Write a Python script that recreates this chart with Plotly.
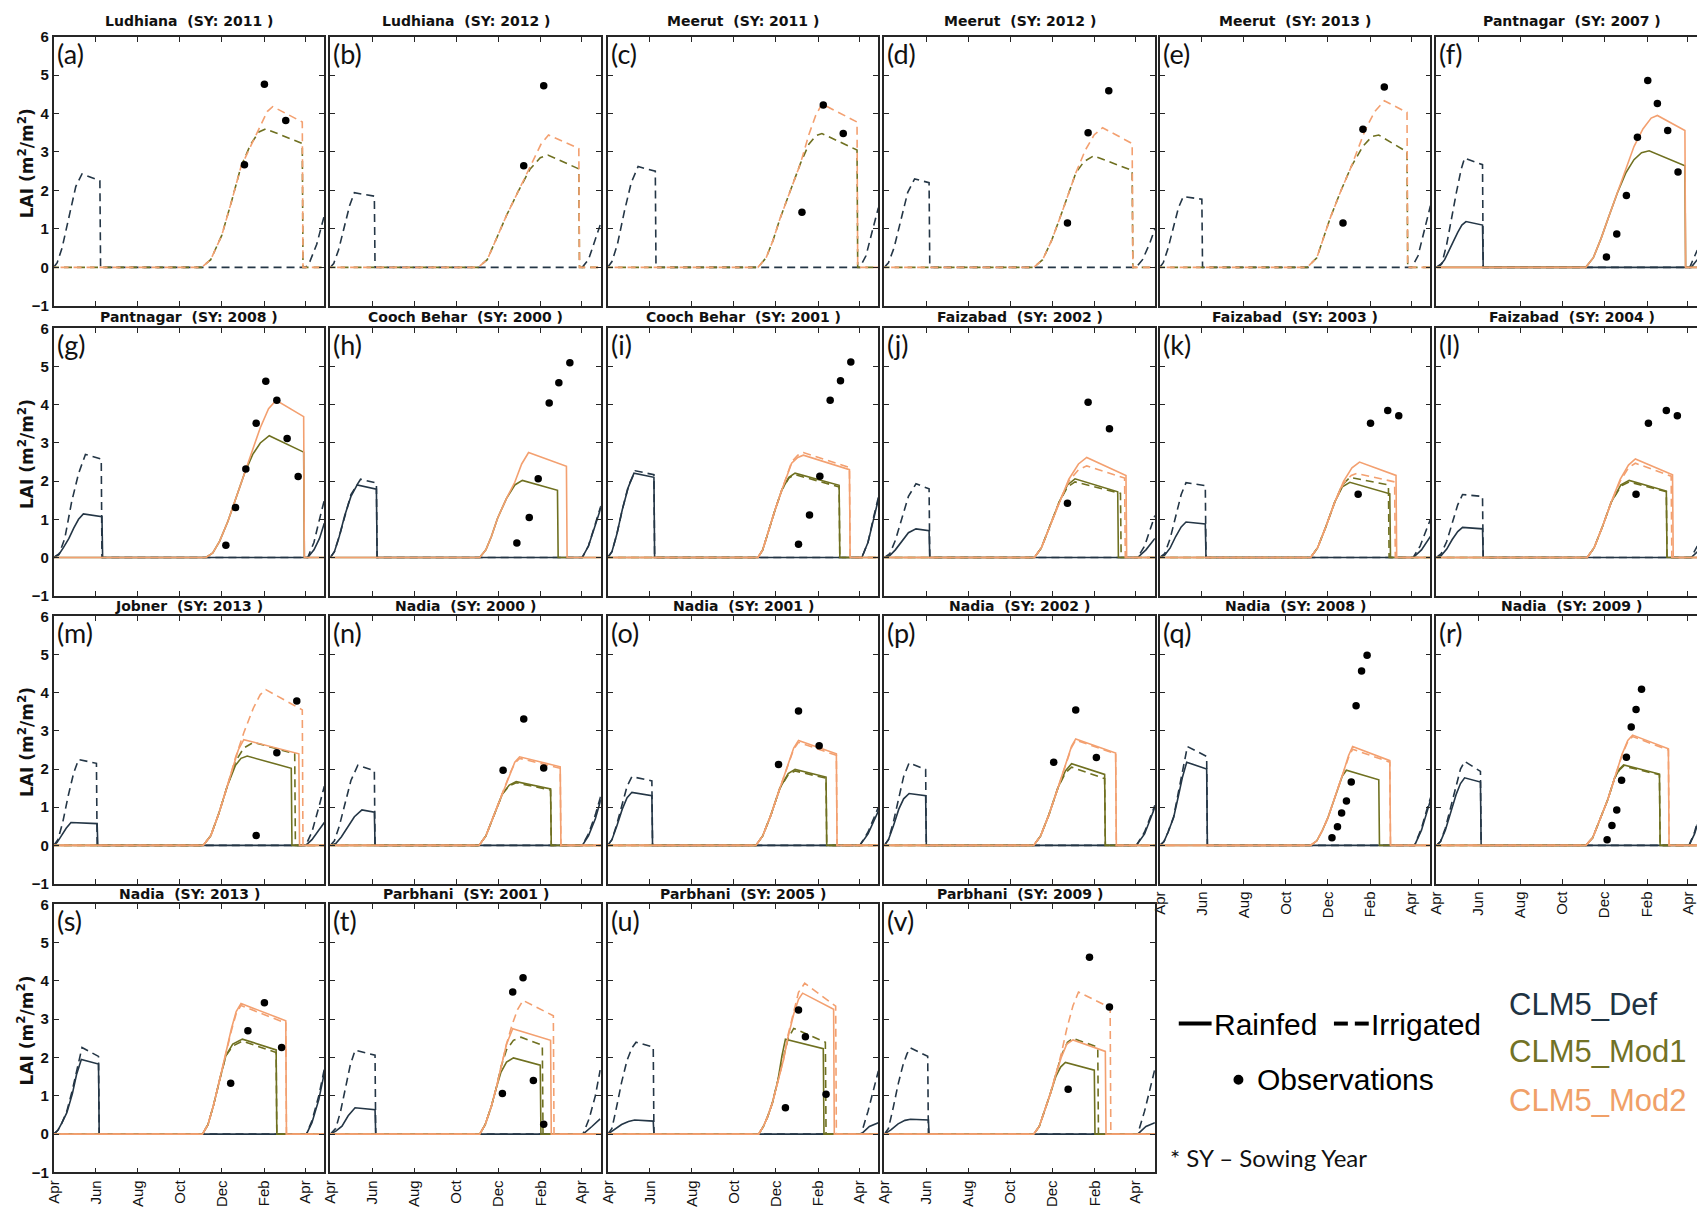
import plotly.graph_objects as go

FIG_W, FIG_H = 1697, 1213

# ---------------------------------------------------------------- panel info
SITES = ["Ludhiana", "Ludhiana", "Meerut", "Meerut", "Meerut", "Pantnagar",
         "Pantnagar", "Cooch Behar", "Cooch Behar", "Faizabad", "Faizabad", "Faizabad",
         "Jobner", "Nadia", "Nadia", "Nadia", "Nadia", "Nadia",
         "Nadia", "Parbhani", "Parbhani", "Parbhani"]
SOW_YEARS = [2011, 2012, 2011, 2012, 2013, 2007,
             2008, 2000, 2001, 2002, 2003, 2004,
             2013, 2000, 2001, 2002, 2008, 2009,
             2013, 2001, 2005, 2009]
PANEL_TAGS = ["(%s)" % c for c in "abcdefghijklmnopqrstuv"]

# x axis: days since 1 April of the sowing year
MONTH_DAYS = [0, 61, 122, 183, 244, 306, 365]
MONTH_LABELS = ["Apr", "Jun", "Aug", "Oct", "Dec", "Feb", "Apr"]
LAI_TICKS = [-1, 0, 1, 2, 3, 4, 5, 6]

# ---------------------------------------------------------------- simulated LAI
# vertices of each simulated LAI curve as [day, LAI]; None = not shown
DEF_RAIN = [
    None, None, None, None, None,
    [[0, 0], [6, 0.06], [12, 0.2], [17, 0.4], [24, 0.65], [31, 0.91], [37, 1.1], [43, 1.19], [67, 1.1], [68, 0], [370, 0], [379, 0.2]],
    [[0, 0], [7, 0.07], [14, 0.26], [22, 0.5], [29, 0.77], [36, 1.0], [43, 1.14], [70, 1.07], [71, 0], [369, 0], [378, 0.2], [386, 0.5], [393, 0.9]],
    [[0, 0], [6, 0.15], [13, 0.55], [21, 1.1], [30, 1.6], [39, 1.9], [67, 1.79], [68, 0], [366, 0], [375, 0.3], [385, 0.85], [393, 1.3]],
    [[0, 0], [6, 0.15], [13, 0.6], [21, 1.25], [30, 1.85], [38, 2.21], [67, 2.1], [68, 0], [369, 0], [378, 0.4], [386, 1.0], [394, 1.6]],
    [[0, 0], [8, 0.05], [16, 0.2], [25, 0.42], [35, 0.65], [46, 0.75], [65, 0.7], [66, 0], [368, 0], [380, 0.2], [393, 0.5]],
    [[0, 0], [7, 0.06], [15, 0.25], [23, 0.55], [31, 0.8], [38, 0.93], [66, 0.88], [67, 0], [368, 0], [380, 0.2], [393, 0.55]],
    [[0, 0], [7, 0.05], [15, 0.22], [23, 0.47], [31, 0.68], [38, 0.79], [67, 0.75], [68, 0], [370, 0], [379, 0.15]],
    [[0, 0], [5, 0.08], [11, 0.25], [18, 0.45], [25, 0.6], [63, 0.57], [64, 0], [366, 0], [375, 0.15], [385, 0.4], [393, 0.6]],
    [[0, 0], [8, 0.05], [16, 0.22], [25, 0.48], [35, 0.75], [46, 0.93], [64, 0.87], [65, 0], [366, 0], [375, 0.25], [385, 0.7], [393, 1.2]],
    [[0, 0], [6, 0.15], [13, 0.5], [21, 0.95], [28, 1.25], [35, 1.39], [64, 1.3], [65, 0], [366, 0], [378, 0.3], [393, 0.9]],
    [[0, 0], [6, 0.15], [13, 0.5], [21, 0.95], [28, 1.22], [36, 1.36], [60, 1.3], [61, 0], [366, 0], [378, 0.3], [393, 1.0]],
    [[0, 0], [6, 0.1], [12, 0.35], [20, 0.73], [27, 1.3], [33, 1.8], [39, 2.18], [68, 2.0], [69, 0], [370, 0], [380, 0.4], [388, 0.9], [395, 1.3]],
    [[0, 0], [6, 0.1], [13, 0.4], [21, 0.9], [29, 1.35], [35, 1.62], [41, 1.77], [64, 1.66], [65, 0], [367, 0], [375, 0.3], [382, 0.7]],
    [[0, 0], [6, 0.1], [12, 0.3], [19, 0.56], [27, 1.05], [33, 1.55], [40, 1.95], [65, 1.83], [66, 0], [367, 0], [375, 0.3], [385, 0.9], [393, 1.6]],
    [[0, 0], [8, 0.08], [17, 0.21], [26, 0.48], [36, 0.69], [65, 0.64], [66, 0], [367, 0], [380, 0.2], [392, 0.4]],
    [[0, 0], [10, 0.12], [20, 0.25], [30, 0.33], [39, 0.37], [66, 0.34], [67, 0], [368, 0], [380, 0.2], [393, 0.3]],
    [[0, 0], [10, 0.12], [20, 0.27], [30, 0.36], [38, 0.39], [64, 0.37], [65, 0], [368, 0], [380, 0.2], [393, 0.3]],
]
DEF_IRR = [
    [[0, 0], [5, 0.12], [12, 0.5], [22, 1.3], [32, 2.1], [41, 2.43], [67, 2.25], [68, 0], [366, 0], [372, 0.15], [382, 0.6], [393, 1.35]],
    [[0, 0], [5, 0.1], [12, 0.45], [20, 1.05], [28, 1.6], [35, 1.94], [64, 1.85], [65, 0], [366, 0], [375, 0.2], [385, 0.7], [393, 1.15]],
    [[0, 0], [6, 0.15], [14, 0.6], [24, 1.45], [34, 2.2], [44, 2.62], [69, 2.5], [70, 0], [366, 0], [375, 0.3], [385, 1.0], [393, 1.55]],
    [[0, 0], [6, 0.12], [14, 0.5], [24, 1.25], [34, 1.95], [44, 2.3], [65, 2.2], [66, 0], [366, 0], [375, 0.2], [385, 0.6], [393, 1.0]],
    [[0, 0], [5, 0.12], [12, 0.5], [20, 1.1], [27, 1.55], [34, 1.84], [61, 1.77], [62, 0], [366, 0], [375, 0.3], [385, 1.0], [393, 1.6]],
    [[0, 0], [8, 0.1], [15, 0.6], [22, 1.3], [29, 1.94], [36, 2.55], [41, 2.84], [67, 2.67], [68, 0], [368, 0], [379, 0.45]],
    [[0, 0], [8, 0.1], [16, 0.5], [26, 1.46], [36, 2.2], [46, 2.7], [69, 2.58], [70, 0], [369, 0], [378, 0.4], [386, 1.0], [393, 1.5]],
    [[0, 0], [6, 0.15], [13, 0.55], [21, 1.1], [30, 1.65], [44, 2.05], [67, 1.95], [68, 0], [366, 0], [375, 0.3], [385, 0.9], [393, 1.35]],
    [[0, 0], [6, 0.15], [13, 0.6], [21, 1.25], [30, 1.88], [40, 2.27], [67, 2.17], [68, 0], [369, 0], [378, 0.4], [386, 1.05], [394, 1.65]],
    [[0, 0], [8, 0.1], [16, 0.45], [25, 1.0], [35, 1.6], [46, 1.93], [65, 1.8], [66, 0], [368, 0], [378, 0.3], [386, 0.7], [393, 1.1]],
    [[0, 0], [7, 0.1], [15, 0.5], [23, 1.1], [31, 1.65], [38, 1.96], [66, 1.88], [67, 0], [368, 0], [378, 0.3], [386, 0.7], [393, 1.0]],
    [[0, 0], [7, 0.1], [15, 0.42], [23, 0.9], [31, 1.38], [38, 1.65], [67, 1.6], [68, 0], [370, 0], [379, 0.3]],
    [[0, 0], [6, 0.15], [13, 0.6], [21, 1.3], [29, 1.9], [36, 2.25], [62, 2.15], [63, 0], [366, 0], [375, 0.35], [385, 1.0], [393, 1.55]],
    [[0, 0], [6, 0.12], [13, 0.5], [21, 1.1], [30, 1.7], [40, 2.1], [64, 1.96], [65, 0], [366, 0], [375, 0.3], [385, 0.8], [393, 1.3]],
    [[0, 0], [6, 0.15], [13, 0.55], [21, 1.1], [28, 1.55], [35, 1.8], [64, 1.69], [65, 0], [366, 0], [378, 0.35], [393, 1.0]],
    [[0, 0], [6, 0.15], [13, 0.6], [21, 1.25], [28, 1.8], [36, 2.16], [60, 1.99], [61, 0], [366, 0], [378, 0.35], [393, 1.05]],
    [[0, 0], [6, 0.1], [12, 0.35], [20, 0.75], [27, 1.4], [34, 2.1], [40, 2.59], [68, 2.33], [69, 0], [370, 0], [380, 0.45], [388, 0.95], [395, 1.35]],
    [[0, 0], [6, 0.1], [13, 0.45], [21, 1.0], [29, 1.6], [35, 2.0], [41, 2.2], [64, 1.94], [65, 0], [367, 0], [375, 0.35], [382, 0.8]],
    [[0, 0], [6, 0.1], [12, 0.3], [19, 0.6], [27, 1.15], [34, 1.75], [41, 2.26], [65, 2.03], [66, 0], [367, 0], [375, 0.35], [385, 1.0], [393, 1.7]],
    [[0, 0], [8, 0.15], [15, 0.6], [22, 1.24], [29, 1.8], [36, 2.19], [65, 2.06], [66, 0], [367, 0], [376, 0.4], [385, 1.0], [392, 1.67]],
    [[0, 0], [6, 0.15], [13, 0.73], [20, 1.35], [28, 1.93], [35, 2.25], [41, 2.4], [66, 2.27], [67, 0], [368, 0], [378, 0.6], [386, 1.2], [393, 1.65]],
    [[0, 0], [6, 0.15], [13, 0.7], [20, 1.3], [27, 1.8], [33, 2.1], [38, 2.25], [63, 2.03], [64, 0], [368, 0], [378, 0.6], [386, 1.2], [393, 1.7]],
]
MOD1_RAIN = [
    None, None, None, None, None,
    [[217, 0], [228, 0.25], [239, 0.74], [251, 1.35], [263, 1.94], [275, 2.45], [287, 2.8], [298, 2.98], [309, 3.03], [361, 2.64], [362, 0]],
    [[221, 0], [231, 0.12], [241, 0.43], [253, 0.95], [265, 1.55], [277, 2.2], [289, 2.7], [300, 3.0], [313, 3.19], [363, 2.76], [364, 0]],
    [[217, 0], [226, 0.2], [234, 0.55], [243, 1.03], [256, 1.55], [268, 1.9], [279, 2.02], [330, 1.76], [331, 0]],
    [[218, 0], [225, 0.2], [234, 0.75], [243, 1.25], [253, 1.78], [263, 2.1], [272, 2.21], [336, 1.89], [337, 0]],
    [[218, 0], [228, 0.25], [240, 0.8], [254, 1.45], [266, 1.9], [277, 2.06], [339, 1.72], [340, 0]],
    [[219, 0], [229, 0.25], [241, 0.8], [254, 1.45], [265, 1.85], [276, 1.97], [334, 1.67], [335, 0]],
    [[219, 0], [229, 0.25], [241, 0.8], [254, 1.45], [268, 1.9], [280, 2.02], [334, 1.74], [335, 0]],
    [[217, 0], [228, 0.25], [240, 0.85], [252, 1.55], [264, 2.1], [272, 2.28], [281, 2.34], [345, 2.02], [346, 0]],
    [[216, 0], [226, 0.25], [238, 0.8], [250, 1.35], [260, 1.58], [270, 1.67], [320, 1.48], [321, 0]],
    [[215, 0], [225, 0.25], [237, 0.8], [250, 1.5], [262, 1.88], [272, 1.99], [317, 1.79], [318, 0]],
    [[217, 0], [227, 0.25], [239, 0.8], [252, 1.5], [263, 1.95], [272, 2.14], [320, 1.86], [321, 0]],
    [[219, 0], [228, 0.12], [236, 0.39], [244, 0.72], [251, 1.08], [259, 1.5], [265, 1.82], [271, 1.97], [318, 1.72], [319, 0]],
    [[217, 0], [227, 0.2], [239, 0.73], [249, 1.2], [259, 1.77], [266, 2.0], [272, 2.11], [324, 1.87], [325, 0]],
    [[216, 0], [224, 0.25], [232, 0.75], [241, 1.42], [250, 2.05], [260, 2.35], [274, 2.48], [323, 2.2], [324, 0]],
    [[217, 0], [225, 0.25], [234, 0.73], [241, 1.2], [248, 1.62], [256, 1.88], [266, 1.99], [305, 1.8], [306, 0]],
    [[219, 0], [226, 0.2], [232, 0.45], [239, 0.81], [247, 1.4], [253, 2.05], [258, 2.48], [313, 2.23], [314, 0]],
    [[217, 0], [225, 0.2], [233, 0.6], [241, 1.05], [249, 1.5], [256, 1.75], [263, 1.87], [305, 1.67], [306, 0]],
]
MOD1_IRR = [
    [[215, 0], [228, 0.2], [244, 0.83], [258, 1.7], [272, 2.62], [286, 3.2], [298, 3.52], [308, 3.6], [361, 3.22], [362, 0]],
    [[215, 0], [228, 0.2], [241, 0.74], [256, 1.35], [272, 1.94], [290, 2.55], [305, 2.85], [316, 2.92], [361, 2.56], [362, 0]],
    [[218, 0], [230, 0.25], [240, 0.7], [250, 1.26], [265, 2.0], [280, 2.71], [292, 3.2], [302, 3.42], [311, 3.48], [362, 3.05], [363, 0]],
    [[217, 0], [230, 0.2], [243, 0.7], [258, 1.43], [278, 2.45], [290, 2.75], [304, 2.9], [360, 2.52], [361, 0]],
    [[214, 0], [228, 0.25], [247, 1.26], [262, 1.95], [278, 2.62], [295, 3.15], [308, 3.4], [318, 3.44], [359, 3.0], [360, 0]],
    None, None, None,
    [[218, 0], [225, 0.2], [234, 0.75], [243, 1.25], [253, 1.78], [263, 2.08], [272, 2.17], [336, 1.85], [337, 0]],
    [[218, 0], [228, 0.25], [240, 0.8], [254, 1.45], [266, 1.85], [277, 1.98], [343, 1.68], [344, 0]],
    [[219, 0], [229, 0.25], [241, 0.8], [254, 1.45], [265, 1.9], [276, 2.1], [332, 1.9], [333, 0]],
    [[219, 0], [229, 0.25], [241, 0.8], [254, 1.45], [268, 1.87], [280, 1.98], [334, 1.72], [335, 0]],
    [[217, 0], [228, 0.25], [240, 0.85], [252, 1.55], [264, 2.2], [276, 2.55], [290, 2.7], [350, 2.4], [351, 0]],
    [[216, 0], [226, 0.25], [238, 0.8], [250, 1.35], [260, 1.56], [270, 1.64], [320, 1.45], [321, 0]],
    [[215, 0], [225, 0.25], [237, 0.8], [250, 1.5], [262, 1.85], [272, 1.95], [317, 1.76], [318, 0]],
    [[217, 0], [227, 0.25], [239, 0.8], [252, 1.5], [263, 1.9], [272, 2.05], [320, 1.75], [321, 0]],
    None,
    [[217, 0], [227, 0.2], [239, 0.73], [249, 1.2], [259, 1.77], [266, 1.98], [272, 2.08], [324, 1.85], [325, 0]],
    [[216, 0], [224, 0.25], [232, 0.75], [241, 1.42], [250, 2.05], [260, 2.3], [274, 2.43], [323, 2.13], [324, 0]],
    [[217, 0], [225, 0.25], [234, 0.73], [241, 1.2], [248, 1.76], [256, 2.2], [266, 2.45], [277, 2.53], [308, 2.32], [309, 0]],
    [[219, 0], [226, 0.2], [232, 0.45], [239, 0.81], [247, 1.4], [255, 2.0], [262, 2.5], [270, 2.76], [316, 2.4], [317, 0]],
    [[217, 0], [225, 0.2], [233, 0.6], [241, 1.05], [249, 1.55], [257, 2.05], [266, 2.4], [274, 2.5], [310, 2.27], [311, 0]],
]
MOD2_RAIN = [
    None, None, None, None, None,
    [[217, 0], [228, 0.25], [239, 0.74], [251, 1.35], [263, 1.94], [275, 2.55], [287, 3.14], [300, 3.6], [312, 3.88], [321, 3.95], [361, 3.56], [362, 0]],
    [[221, 0], [231, 0.12], [241, 0.43], [253, 0.95], [265, 1.55], [277, 2.2], [289, 2.83], [300, 3.4], [312, 3.9], [323, 4.12], [363, 3.69], [364, 0]],
    [[217, 0], [226, 0.2], [234, 0.55], [243, 1.03], [256, 1.55], [268, 1.97], [278, 2.45], [288, 2.75], [343, 2.39], [344, 0]],
    [[218, 0], [225, 0.2], [234, 0.75], [243, 1.25], [253, 1.78], [267, 2.47], [276, 2.62], [284, 2.68], [351, 2.3], [352, 0]],
    [[218, 0], [228, 0.25], [240, 0.8], [254, 1.45], [268, 2.05], [282, 2.45], [294, 2.62], [351, 2.15], [352, 0]],
    [[219, 0], [229, 0.25], [241, 0.8], [254, 1.45], [267, 2.0], [279, 2.35], [290, 2.5], [343, 2.15], [344, 0]],
    [[219, 0], [229, 0.25], [241, 0.8], [254, 1.45], [267, 2.05], [279, 2.42], [289, 2.58], [343, 2.17], [344, 0]],
    [[217, 0], [228, 0.25], [240, 0.85], [252, 1.55], [260, 2.05], [268, 2.5], [276, 2.77], [356, 2.4], [357, 0]],
    [[216, 0], [226, 0.25], [238, 0.8], [250, 1.4], [262, 1.95], [268, 2.18], [275, 2.32], [334, 2.06], [335, 0]],
    [[215, 0], [225, 0.25], [237, 0.8], [250, 1.5], [263, 2.2], [270, 2.55], [277, 2.75], [332, 2.4], [333, 0]],
    [[217, 0], [227, 0.25], [239, 0.8], [252, 1.5], [265, 2.25], [272, 2.6], [278, 2.79], [336, 2.42], [337, 0]],
    [[219, 0], [228, 0.12], [236, 0.39], [244, 0.72], [251, 1.08], [259, 1.5], [267, 1.94], [274, 2.35], [280, 2.59], [334, 2.22], [335, 0]],
    [[217, 0], [227, 0.2], [239, 0.73], [249, 1.2], [259, 1.77], [270, 2.4], [278, 2.75], [285, 2.89], [337, 2.53], [338, 0]],
    [[216, 0], [224, 0.25], [232, 0.75], [241, 1.42], [250, 2.15], [258, 2.75], [265, 3.2], [272, 3.41], [337, 2.96], [338, 0]],
    [[217, 0], [225, 0.25], [234, 0.73], [241, 1.2], [248, 1.76], [256, 2.35], [265, 2.75], [320, 2.45], [321, 0]],
    [[219, 0], [226, 0.2], [232, 0.45], [239, 0.81], [247, 1.35], [255, 1.93], [262, 2.55], [270, 3.13], [277, 3.52], [283, 3.68], [328, 3.26], [329, 0]],
    [[217, 0], [225, 0.2], [233, 0.6], [241, 1.05], [249, 1.55], [257, 2.0], [265, 2.35], [274, 2.46], [321, 2.16], [322, 0]],
]
MOD2_IRR = [
    [[215, 0], [228, 0.2], [244, 0.83], [258, 1.7], [272, 2.62], [286, 3.15], [300, 3.7], [310, 4.05], [318, 4.18], [361, 3.78], [362, 0]],
    [[215, 0], [228, 0.2], [241, 0.74], [256, 1.35], [272, 1.94], [293, 2.71], [306, 3.2], [317, 3.44], [361, 3.09], [362, 0]],
    [[218, 0], [230, 0.25], [240, 0.7], [250, 1.26], [265, 2.0], [280, 2.71], [292, 3.45], [302, 3.95], [311, 4.25], [362, 3.78], [363, 0]],
    [[217, 0], [230, 0.2], [243, 0.7], [258, 1.43], [278, 2.45], [292, 3.05], [305, 3.45], [317, 3.63], [360, 3.22], [361, 0]],
    [[214, 0], [228, 0.25], [247, 1.26], [262, 1.95], [278, 2.62], [298, 3.56], [312, 4.05], [326, 4.33], [359, 4.03], [360, 0]],
    None, None, None,
    [[218, 0], [225, 0.2], [234, 0.75], [243, 1.25], [253, 1.78], [267, 2.5], [276, 2.68], [284, 2.75], [351, 2.36], [352, 0]],
    [[218, 0], [228, 0.25], [240, 0.8], [254, 1.45], [268, 2.0], [282, 2.3], [294, 2.4], [349, 2.08], [350, 0]],
    [[219, 0], [229, 0.25], [241, 0.8], [254, 1.45], [267, 1.95], [278, 2.15], [286, 2.2], [341, 1.98], [342, 0]],
    [[219, 0], [229, 0.25], [241, 0.8], [254, 1.45], [267, 2.0], [279, 2.35], [289, 2.47], [341, 2.13], [342, 0]],
    [[217, 0], [228, 0.25], [240, 0.85], [252, 1.55], [264, 2.3], [276, 2.95], [290, 3.6], [300, 3.95], [308, 4.08], [361, 3.55], [362, 0]],
    [[216, 0], [226, 0.25], [238, 0.8], [250, 1.4], [262, 1.93], [268, 2.15], [275, 2.28], [334, 2.02], [335, 0]],
    [[215, 0], [225, 0.25], [237, 0.8], [250, 1.5], [263, 2.18], [270, 2.52], [277, 2.7], [332, 2.36], [333, 0]],
    [[217, 0], [227, 0.25], [239, 0.8], [252, 1.5], [265, 2.22], [272, 2.57], [278, 2.76], [336, 2.4], [337, 0]],
    [[219, 0], [228, 0.12], [236, 0.39], [244, 0.72], [251, 1.08], [259, 1.5], [267, 1.94], [274, 2.3], [280, 2.52], [334, 2.18], [335, 0]],
    [[217, 0], [227, 0.2], [239, 0.73], [249, 1.2], [259, 1.77], [270, 2.38], [278, 2.72], [285, 2.85], [337, 2.5], [338, 0]],
    [[216, 0], [224, 0.25], [232, 0.75], [241, 1.42], [250, 2.12], [258, 2.7], [265, 3.15], [272, 3.36], [337, 2.9], [338, 0]],
    [[217, 0], [225, 0.25], [234, 0.73], [241, 1.2], [248, 1.76], [256, 2.35], [264, 2.85], [272, 3.25], [280, 3.49], [324, 3.09], [325, 0]],
    [[219, 0], [226, 0.2], [232, 0.45], [239, 0.81], [247, 1.35], [255, 1.93], [262, 2.6], [270, 3.2], [277, 3.7], [286, 3.94], [331, 3.34], [332, 0]],
    [[217, 0], [225, 0.2], [233, 0.6], [241, 1.05], [249, 1.55], [257, 2.1], [265, 2.75], [274, 3.35], [282, 3.71], [328, 3.3], [329, 0]],
]

# ---------------------------------------------------------------- observations
OBS_DAY = [
    [277, 306, 337], [281, 310], [282, 313, 342], [266, 296, 326], [266, 295, 326],
    [247, 262, 276, 292, 307, 321, 336, 351],
    [250, 264, 279, 294, 308, 324, 339, 355],
    [271, 289, 302, 318, 332, 348], [277, 293, 308, 323, 338, 353],
    [266, 296, 327], [288, 306, 331, 347], [290, 308, 334, 350],
    [294, 324, 353], [251, 281, 310], [248, 277, 307], [246, 278, 308],
    [250, 258, 264, 271, 278, 285, 293, 301],
    [248, 255, 262, 269, 276, 283, 290, 298],
    [257, 282, 306, 331], [250, 265, 280, 295, 310], [258, 277, 287, 317], [267, 298, 327],
]
OBS_LAI = [
    [2.67, 4.76, 3.82], [2.64, 4.72], [1.43, 4.22, 3.48], [1.15, 3.5, 4.59], [1.15, 3.59, 4.69],
    [0.27, 0.87, 1.87, 3.38, 4.86, 4.26, 3.56, 2.48],
    [0.32, 1.31, 2.32, 3.52, 4.62, 4.12, 3.12, 2.12],
    [0.38, 1.05, 2.06, 4.05, 4.58, 5.1], [0.35, 1.11, 2.13, 4.12, 4.63, 5.12],
    [1.42, 4.07, 3.37], [1.66, 3.52, 3.85, 3.71], [1.66, 3.52, 3.85, 3.71],
    [0.26, 2.43, 3.78], [1.97, 3.31, 2.03], [2.12, 3.52, 2.61], [2.18, 3.55, 2.3],
    [0.2, 0.49, 0.85, 1.16, 1.66, 3.66, 4.57, 4.98],
    [0.15, 0.52, 0.93, 1.71, 2.31, 3.1, 3.56, 4.09],
    [1.33, 2.7, 3.43, 2.26], [1.06, 3.71, 4.08, 1.4, 0.26], [0.69, 3.24, 2.54, 1.04], [1.17, 4.62, 3.32],
]

# ---------------------------------------------------------------- styling
COL_DEF = "#243646"
COL_MOD1 = "#6f7020"
COL_MOD2 = "#f3a070"
TXT_DEF = "#1e3343"
TXT_MOD1 = "#727226"
TXT_MOD2 = "#f0a068"
AXIS_COL = "#262626"
IRR_DASH = "8px,5px"

COL_LEFT = [45, 323, 602, 880, 1157, 1435]
ROW_TOP = [28, 324, 616, 908]
ROW_H = [273, 271, 271, 272]
TITLE_LIFT = [6, 1, 0, 0]
PANEL_W = 272
X_SPAN = 393.0


def px_x(p):
    return p / FIG_W


def px_y(p):
    return 1 - p / FIG_H


def padded(verts, phase=0.0):
    xs = [v[0] for v in verts]
    ys = [v[1] for v in verts]
    if xs[0] > -phase:
        xs.insert(0, -phase)
        ys.insert(0, 0)
    if ys[-1] == 0:
        xs.append(410)
        ys.append(0)
    return xs, ys


fig = go.Figure()
layout = {}
annotations = []

series = [
    (DEF_IRR, COL_DEF, IRR_DASH, 0.0),
    (DEF_RAIN, COL_DEF, "solid", 0.0),
    (MOD1_IRR, COL_MOD1, IRR_DASH, 4.0),
    (MOD1_RAIN, COL_MOD1, "solid", 0.0),
    (MOD2_IRR, COL_MOD2, IRR_DASH, 9.0),
    (MOD2_RAIN, COL_MOD2, "solid", 0.0),
]

for i in range(len(SITES)):
    n = i + 1
    sfx = "" if n == 1 else str(n)
    row, col = divmod(i, 6)
    left = COL_LEFT[col]
    right = min(left + PANEL_W, FIG_W)
    top = ROW_TOP[row]
    bottom = top + ROW_H[row]
    x_end = X_SPAN * (right - left) / PANEL_W
    bottom_panel = row == 3 or (row == 2 and col >= 4)

    for data, color, dash, phase in series:
        verts = data[i]
        if verts is None:
            continue
        xs, ys = padded(verts, phase)
        fig.add_trace(go.Scatter(
            x=xs, y=ys, mode="lines",
            line=dict(color=color, width=1.6, dash=dash),
            xaxis="x" + sfx, yaxis="y" + sfx,
            showlegend=False, hoverinfo="skip"))

    fig.add_trace(go.Scatter(
        x=OBS_DAY[i], y=OBS_LAI[i], mode="markers",
        marker=dict(color="black", size=7.5),
        xaxis="x" + sfx, yaxis="y" + sfx,
        showlegend=False, hoverinfo="skip"))

    xaxis = dict(
        domain=[px_x(left), px_x(right)], anchor="y" + sfx,
        range=[0, x_end], tickmode="array", tickvals=MONTH_DAYS,
        ticks="inside", ticklen=5, tickwidth=1, tickcolor=AXIS_COL,
        showline=True, linecolor=AXIS_COL, linewidth=1.8, mirror="ticks",
        showgrid=False, zeroline=False, showticklabels=bottom_panel,
        fixedrange=True)
    if bottom_panel:
        xaxis.update(
            ticktext=MONTH_LABELS, tickangle=-90,
            tickfont=dict(family="Liberation Sans, Arial, sans-serif", size=15, color="#111"))
    layout["xaxis" + sfx] = xaxis

    yaxis = dict(
        domain=[px_y(bottom), px_y(top)], anchor="x" + sfx,
        range=[-1, 6], tickmode="array", tickvals=LAI_TICKS,
        ticks="inside", ticklen=5, tickwidth=1, tickcolor=AXIS_COL,
        showline=True, linecolor=AXIS_COL, linewidth=1.8,
        mirror="ticks" if col < 5 else False,
        showgrid=False, zeroline=False, showticklabels=(col == 0),
        fixedrange=True)
    if col == 0:
        yaxis.update(tickfont=dict(family="Liberation Sans, Arial, sans-serif",
                                   size=15, color="#111", weight="bold"))
    layout["yaxis" + sfx] = yaxis

    # panel title
    annotations.append(dict(
        x=px_x(left + PANEL_W / 2), y=px_y(top - TITLE_LIFT[row]),
        xref="paper", yref="paper",
        xanchor="center", yanchor="bottom", showarrow=False,
        text="<b>%s\u00a0\u00a0(SY: %d\u00a0)</b>" % (SITES[i], SOW_YEARS[i]),
        font=dict(family="DejaVu Sans, sans-serif", size=14, color="#111")))
    # panel tag
    annotations.append(dict(
        x=px_x(left + 1), y=px_y(top - 2), xref="paper", yref="paper",
        xanchor="left", yanchor="top", showarrow=False, text=PANEL_TAGS[i],
        font=dict(family="Lato, sans-serif", size=27, color="#111")))
    # y-axis title on the first column
    if col == 0:
        annotations.append(dict(
            x=px_x(17), y=px_y(top + ROW_H[row] / 2 - 8), xref="paper", yref="paper",
            xanchor="center", yanchor="middle", showarrow=False, textangle=-90,
            text="<b>LAI (m<sup>2</sup>/m<sup>2</sup>)</b>",
            font=dict(family="DejaVu Sans, sans-serif", size=17, color="#111")))

# ---------------------------------------------------------------- key
LEG_FONT = "Liberation Sans, Arial, sans-serif"


def key_text(x, y, text, color="black", size=30, family=LEG_FONT):
    annotations.append(dict(
        x=px_x(x), y=px_y(y), xref="paper", yref="paper",
        xanchor="left", yanchor="middle", showarrow=False, text=text,
        font=dict(family=family, size=size, color=color)))


KEY_Y1, KEY_Y2 = 1030, 1086
shapes = [
    dict(type="line", xref="paper", yref="paper",
         x0=px_x(1176), x1=px_x(1209), y0=px_y(KEY_Y1 - 1), y1=px_y(KEY_Y1 - 1),
         line=dict(color="black", width=4)),
    dict(type="line", xref="paper", yref="paper",
         x0=px_x(1332), x1=px_x(1346), y0=px_y(KEY_Y1 - 1), y1=px_y(KEY_Y1 - 1),
         line=dict(color="black", width=4)),
    dict(type="line", xref="paper", yref="paper",
         x0=px_x(1353), x1=px_x(1367), y0=px_y(KEY_Y1 - 1), y1=px_y(KEY_Y1 - 1),
         line=dict(color="black", width=4)),
    dict(type="circle", xref="paper", yref="paper",
         x0=px_x(1231), x1=px_x(1241), y0=px_y(KEY_Y2 + 5), y1=px_y(KEY_Y2 - 5),
         fillcolor="black", line=dict(color="black", width=0)),
]
key_text(1209, KEY_Y1, "Rainfed")
key_text(1367, KEY_Y1, "Irrigated")
key_text(1253, KEY_Y2, "Observations")
key_text(1506, 1010, "CLM5_Def", TXT_DEF, 31)
key_text(1506, 1057, "CLM5_Mod1", TXT_MOD1, 31)
key_text(1506, 1107, "CLM5_Mod2", TXT_MOD2, 31)
key_text(1165, 1165, "* SY \u2013 Sowing Year", "#111", 24, "Lato, sans-serif")

fig.update_layout(
    width=FIG_W, height=FIG_H, autosize=False,
    margin=dict(l=0, r=0, t=0, b=0),
    paper_bgcolor="white", plot_bgcolor="white",
    showlegend=False, annotations=annotations, shapes=shapes,
    **layout)

fig.write_html("out.html")
